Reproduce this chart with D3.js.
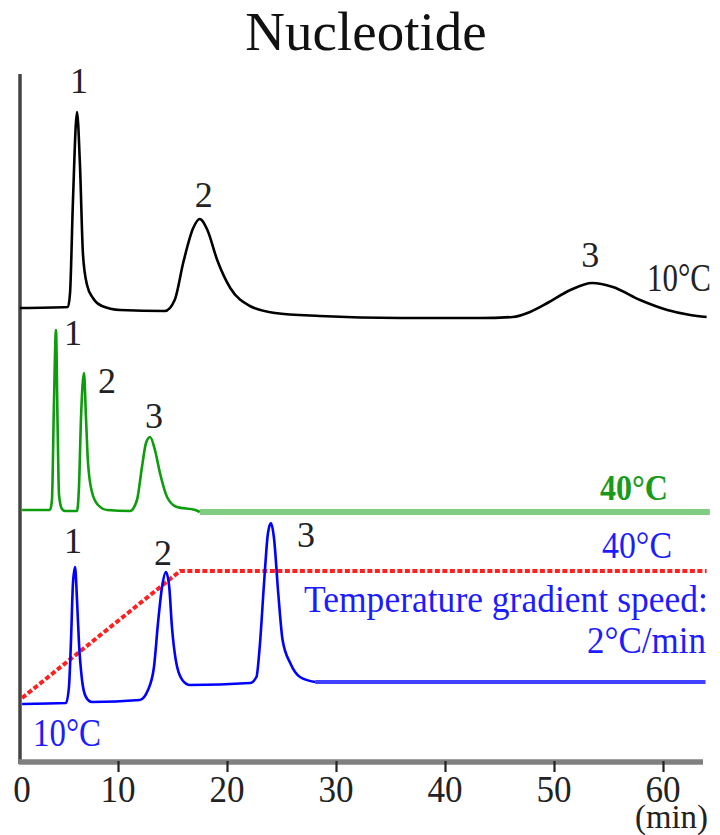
<!DOCTYPE html>
<html>
<head>
<meta charset="utf-8">
<script src="https://cdn.jsdelivr.net/npm/d3@7"></script>
<style>
  html, body { margin: 0; padding: 0; background: #fff; }
  svg { display: block; }
  text { font-family: "Liberation Serif", "Times New Roman", serif; }
</style>
</head>
<body>
<svg id="chart" width="720" height="835"></svg>
<script>
// ---- data ----------------------------------------------------------------
// Chromatogram at a constant 10 °C: [time (min), detector signal]
const trace10C = [
  [1.0, 0], [5.41, 0.5], [5.6, 7.5], [5.87, 54], [6.24, 98], [6.51, 71.5],
  [6.79, 26.5], [7.16, 11.5], [7.7, 5], [8.53, 1], [10.2, -1], [14.3, -1.5],
  [15.2, 4], [16.0, 23], [16.9, 40], [17.5, 44.5], [18.2, 39], [19.1, 24],
  [20.3, 10], [22.1, 1], [24.4, -2.5], [28.5, -4], [35.9, -5], [43.2, -5],
  [46.2, -4.5], [47.8, -2], [49.4, 2.5], [51.5, 9], [53.5, 12.5], [55.4, 10.5],
  [57.9, 4], [60.4, -1], [62.5, -3.5], [64.0, -4.5]
];
// Chromatogram at a constant 40 °C
const trace40C = [
  [1.2, 0], [3.76, 0], [3.94, 5], [4.13, 55], [4.31, 90], [4.45, 45],
  [4.59, 7.5], [4.86, 0.5], [5.14, -0.5], [6.24, -0.5], [6.42, 11.5],
  [6.61, 46.5], [6.88, 68.5], [7.06, 46.5], [7.25, 23.5], [7.61, 9],
  [8.17, 2.5], [9.0, 0], [11.1, -0.5], [11.74, 5], [12.2, 21.5], [12.57, 33.5],
  [12.94, 36.5], [13.39, 30], [13.85, 18.5], [14.5, 6.5], [15.4, 1.5],
  [17.1, 0], [17.5, -1], [64.3, -1]
];
// Chromatogram under the 10 → 40 °C temperature gradient
const traceGradient = [
  [1.2, 0], [5.23, 0.5], [5.5, 8.5], [5.69, 32], [5.87, 60.5], [6.06, 68.5],
  [6.24, 52], [6.42, 30.5], [6.7, 12], [7.06, 3.5], [7.6, 1], [12.0, 2],
  [12.75, 7], [13.3, 18.5], [13.67, 40.5], [14.04, 58.5], [14.4, 66],
  [14.7, 58.5], [14.95, 38.5], [15.3, 22], [15.9, 12], [16.6, 9.5],
  [22.1, 10.5], [22.7, 13.5], [23.0, 28.5], [23.4, 60.5], [23.76, 85.5],
  [24.04, 90.5], [24.3, 83.5], [24.7, 55.5], [25.1, 32], [25.8, 20.5],
  [26.7, 13.5], [28.1, 11], [63.9, 11]
];
// Column temperature program: [time (min), °C]
const temperatureProgram = [[1.2, 10], [15.7, 40], [64.0, 40]];

// Peak numbers and retention times of each trace
const peakNames = ["1", "2", "3"];
const peaks10C = [6.24, 17.5, 53.5];
const peaks40C = [4.31, 6.88, 12.94];
const peaksGradient = [6.06, 14.4, 24.04];

// Time axis
const tickValues = [10, 20, 30, 40, 50, 60];
const tickLabels = [0, 10, 20, 30, 40, 50, 60];

// ---- scales --------------------------------------------------------------
const svg = d3.select("#chart");
const x = d3.scaleLinear().domain([0, 60]).range([9, 663]);
const y10 = d3.scaleLinear().domain([0, 100]).range([308, 108]);
const y40 = d3.scaleLinear().domain([0, 100]).range([510, 310]);
const yGrad = d3.scaleLinear().domain([0, 100]).range([704, 504]);
const yTemp = d3.scaleLinear().domain([10, 40]).range([698, 571]);

const axisLeft = 20, axisRight = 703, axisY = 762, axisTop = 74;

// Narrow serif text: squeeze a string horizontally to a given width
function narrowText(parent, str, px, py, size, width, fill, weight) {
  const t = parent.append("text")
    .attr("font-size", size)
    .attr("font-weight", weight || "normal")
    .attr("fill", fill)
    .text(str);
  const natural = t.node().getComputedTextLength();
  t.attr("transform", `translate(${px},${py}) scale(${width / natural},1)`);
  return t;
}

// ---- title ---------------------------------------------------------------
svg.append("text")
  .attr("x", 366).attr("y", 50)
  .attr("text-anchor", "middle")
  .attr("font-size", 55)
  .attr("fill", "#111")
  .text("Nucleotide");

// ---- axes ----------------------------------------------------------------
svg.append("line")
  .attr("x1", axisLeft).attr("x2", axisLeft)
  .attr("y1", axisTop).attr("y2", axisY + 2)
  .attr("stroke", "#444").attr("stroke-width", 3.5);

svg.append("line")
  .attr("x1", axisLeft - 1).attr("x2", axisRight)
  .attr("y1", axisY).attr("y2", axisY)
  .attr("stroke", "#808080").attr("stroke-width", 5.5);

const xAxis = d3.axisBottom(x)
  .tickValues(tickValues)
  .tickSize(11)
  .tickFormat("");
const gx = svg.append("g")
  .attr("transform", `translate(0,${axisY - 1})`)
  .call(xAxis);
gx.select(".domain").remove();
gx.selectAll(".tick line").attr("stroke", "#222").attr("stroke-width", 2.2);

svg.append("g").selectAll("text")
  .data(tickLabels)
  .join("text")
  .attr("transform", d => `translate(${Math.max(x(d), axisLeft + 2)},802) scale(0.9,1)`)
  .attr("text-anchor", "middle")
  .attr("font-size", 39)
  .attr("fill", "#222")
  .text(d => d);

narrowText(svg, "(min)", 635, 828, 34, 73, "#222");

// ---- traces --------------------------------------------------------------
function lineFor(yScale) {
  return d3.line()
    .x(d => x(d[0]))
    .y(d => yScale(d[1]))
    .curve(d3.curveMonotoneX);
}

// 10 °C
svg.append("path")
  .datum(trace10C)
  .attr("d", lineFor(y10))
  .attr("fill", "none")
  .attr("stroke", "#000")
  .attr("stroke-width", 2.6)
  .attr("stroke-linejoin", "round");

// 40 °C: sharp early section, then a broad pale baseline
const split40 = 17.5;
svg.append("path")
  .datum(trace40C.filter(d => d[0] >= split40))
  .attr("d", lineFor(y40))
  .attr("fill", "none")
  .attr("stroke", "#80cc80")
  .attr("stroke-width", 6);
svg.append("path")
  .datum(trace40C.filter(d => d[0] <= split40))
  .attr("d", lineFor(y40))
  .attr("fill", "none")
  .attr("stroke", "#0c9c0c")
  .attr("stroke-width", 2.6)
  .attr("stroke-linejoin", "round");

// temperature program (dotted red)
svg.append("path")
  .datum(temperatureProgram)
  .attr("d", d3.line().x(d => x(d[0])).y(d => yTemp(d[1])))
  .attr("fill", "none")
  .attr("stroke", "#ff2020")
  .attr("stroke-width", 4)
  .attr("stroke-dasharray", "5,2.5");

// gradient run
const splitGrad = 28.1;
svg.append("path")
  .datum(traceGradient.filter(d => d[0] >= splitGrad))
  .attr("d", lineFor(yGrad))
  .attr("fill", "none")
  .attr("stroke", "#4040ff")
  .attr("stroke-width", 4.2);
svg.append("path")
  .datum(traceGradient.filter(d => d[0] <= splitGrad))
  .attr("d", lineFor(yGrad))
  .attr("fill", "none")
  .attr("stroke", "#0000ff")
  .attr("stroke-width", 2.6)
  .attr("stroke-linejoin", "round");

// ---- peak numbers --------------------------------------------------------
function valueAt(trace, t) {
  let best = trace[0];
  trace.forEach(p => { if (Math.abs(p[0] - t) < Math.abs(best[0] - t)) best = p; });
  return best[1];
}
const peakLabelSets = [
  { trace: trace10C, times: peaks10C, y: y10, offsets: [[2, -19], [4, -12], [-2, -16]] },
  { trace: trace40C, times: peaks40C, y: y40, offsets: [[17, 15], [23, 20], [4, -9]] },
  { trace: traceGradient, times: peaksGradient, y: yGrad, offsets: [[-2, -14], [-3, -7], [35, 24]] }
];
peakLabelSets.forEach(set => {
  svg.append("g").selectAll("text")
    .data(set.times)
    .join("text")
    .attr("x", (t, i) => x(t) + set.offsets[i][0])
    .attr("y", (t, i) => set.y(valueAt(set.trace, t)) + set.offsets[i][1])
    .attr("text-anchor", "middle")
    .attr("font-size", 36)
    .attr("fill", "#222")
    .text((t, i) => peakNames[i]);
});

// ---- annotations ---------------------------------------------------------
const notes = [
  { text: "10°C", x: 647, y: 291, size: 39, len: 64, fill: "#222", weight: "normal" },
  { text: "40°C", x: 600, y: 500, size: 36, len: 68, fill: "#1a9a1a", weight: "bold" },
  { text: "40°C", x: 602, y: 558, size: 38, len: 70, fill: "#1c1cff", weight: "normal" },
  { text: "Temperature gradient speed:", x: 304, y: 612, size: 39, len: 404, fill: "#1c1cff", weight: "normal" },
  { text: "2°C/min", x: 587, y: 653, size: 38, len: 119, fill: "#1c1cff", weight: "normal" },
  { text: "10°C", x: 33, y: 746, size: 40, len: 68, fill: "#1c1cff", weight: "normal" }
];
const noteLayer = svg.append("g");
notes.forEach(n => narrowText(noteLayer, n.text, n.x, n.y, n.size, n.len, n.fill, n.weight));
</script>
</body>
</html>
